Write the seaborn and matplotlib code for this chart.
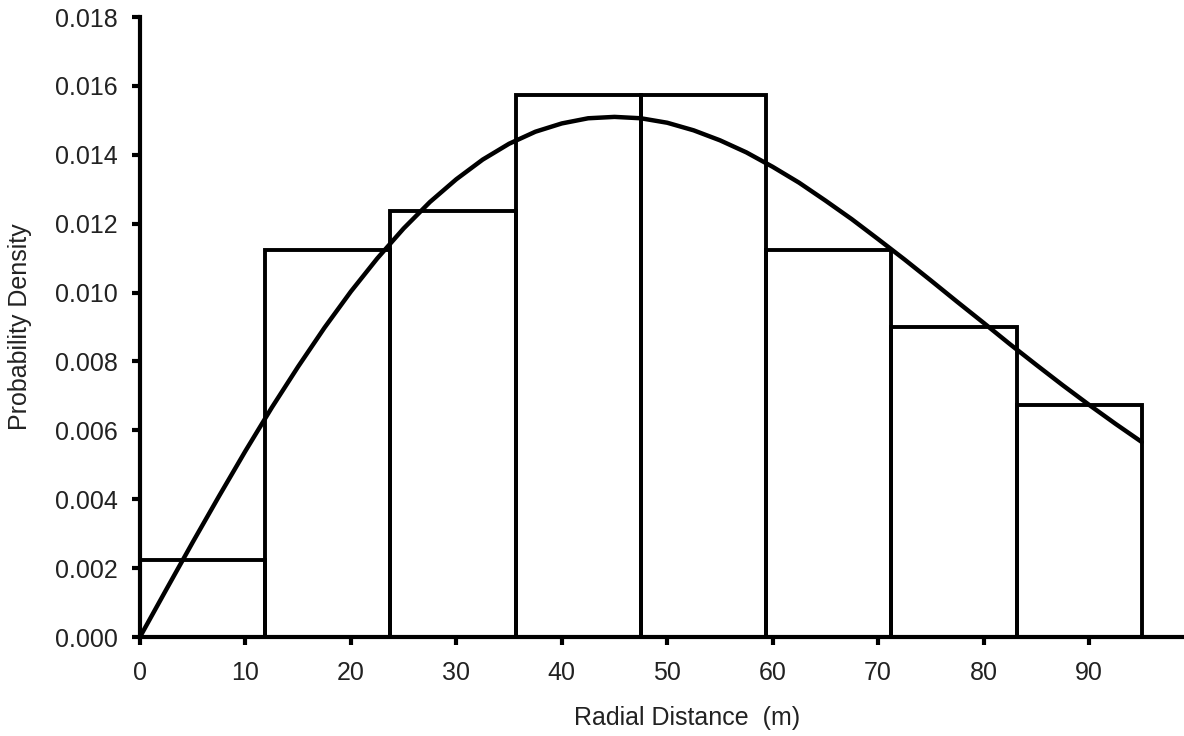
import numpy as np
import matplotlib
matplotlib.use('Agg')
import matplotlib.pyplot as plt
import seaborn as sns

# histogram bins (m) and bar heights (probability density)
bin_edges = [0, 11.875, 23.75, 35.625, 47.5, 59.375, 71.25, 83.125, 95]
bar_heights = [0.00225, 0.01125, 0.01237, 0.01575, 0.01575, 0.01125, 0.00900, 0.00675]

# fitted density curve
curve_x = [0, 2.5, 5, 7.5, 10, 12.5, 15, 17.5, 20, 22.5, 25, 27.5, 30, 32.5, 35, 37.5, 40,
           42.5, 45, 47.5, 50, 52.5, 55, 57.5, 60, 62.5, 65, 67.5, 70, 72.5, 75, 77.5, 80,
           82.5, 85, 87.5, 90, 92.5, 95]
curve_y = [0.0, 0.00138, 0.00275, 0.00409, 0.00540, 0.00666, 0.00785, 0.00898, 0.01003,
           0.01099, 0.01186, 0.01263, 0.01329, 0.01386, 0.01432, 0.01467, 0.01491, 0.01506,
           0.01510, 0.01506, 0.01493, 0.01471, 0.01442, 0.01407, 0.01365, 0.01319, 0.01267,
           0.01213, 0.01155, 0.01096, 0.01035, 0.00973, 0.00912, 0.00850, 0.00790, 0.00731,
           0.00674, 0.00619, 0.00566]

x_ticks = [0, 10, 20, 30, 40, 50, 60, 70, 80, 90]
y_ticks = [0.000, 0.002, 0.004, 0.006, 0.008, 0.010, 0.012, 0.014, 0.016, 0.018]

sns.set_theme(style='ticks')
plt.rcParams['font.family'] = ['Liberation Sans', 'DejaVu Sans']

fig = plt.figure(figsize=(11.84, 7.36), dpi=100)
ax = fig.add_axes([0.1182, 0.1345, 0.8818, 0.8424])

centers = [(bin_edges[i] + bin_edges[i + 1]) / 2 for i in range(len(bar_heights))]
sns.histplot(x=centers, weights=bar_heights, bins=bin_edges, stat='count',
             fill=False, element='bars', color='black', linewidth=2.8, ax=ax)
sns.lineplot(x=curve_x, y=curve_y, color='black', linewidth=3.2, ax=ax)

ax.set_xlim(0, 99)
ax.set_ylim(0, 0.018)
ax.set_xticks(x_ticks)
ax.set_yticks(y_ticks)
ax.set_yticklabels(['%.3f' % v for v in y_ticks])
ax.tick_params(axis='both', direction='out', length=6, width=3, labelsize=18,
               colors='black', labelcolor='#222222')
ax.tick_params(axis='y', pad=10)
ax.tick_params(axis='x', pad=11)
for s in ['left', 'bottom']:
    ax.spines[s].set_linewidth(3)
    ax.spines[s].set_color('black')
sns.despine(ax=ax)
ax.spines['left'].set_zorder(5)
ax.spines['bottom'].set_zorder(5)

ax.set_xlabel('Radial Distance  (m)', fontsize=18, color='#222222')
ax.set_ylabel('Probability Density', fontsize=18, color='#222222')
ax.xaxis.set_label_coords(0.524, -0.112)
ax.yaxis.set_label_coords(-0.103, 0.5)

fig.savefig('out.png', dpi=100, facecolor='white')
